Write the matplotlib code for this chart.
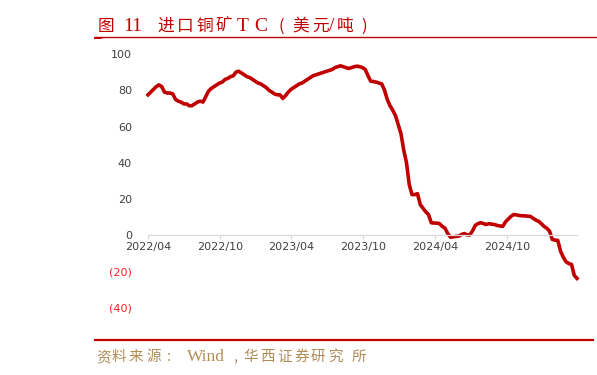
#!/usr/bin/env python3
"""Imported copper concentrate TC chart (USD/t), weekly."""

import matplotlib

matplotlib.use("Agg")
import matplotlib.dates as mdates
import matplotlib.pyplot as plt
import pandas as pd
from matplotlib.lines import Line2D
from matplotlib.ticker import FuncFormatter

plt.rcParams["font.family"] = ["DejaVu Sans", "Noto Sans CJK SC"]

# title and source are drawn piece by piece to copy the spaced serif look
TITLE_PIECES = [
    ("图", 98, "cjk"), ("11", 123, "latin"), ("进", 157, "cjk"),
    ("口", 177, "cjk"), ("铜", 196, "cjk"), ("矿", 216, "cjk"),
    ("T", 237, "latin"), ("C", 254, "latin"), ("(", 278, "cjk"),
    ("美", 292, "cjk"), ("元", 312, "cjk"), ("/", 329, "latin"),
    ("吨", 337, "cjk"), (")", 361, "cjk"),
]
SOURCE_PIECES = [
    ("资", 96, "cjk"), ("料", 112, "cjk"), ("来", 129, "cjk"),
    ("源", 146, "cjk"), (":", 167, "cjk"), ("Wind", 187, "latin"),
    (",", 233, "cjk"), ("华", 243, "cjk"), ("西", 260, "cjk"),
    ("证", 277, "cjk"), ("券", 294, "cjk"), ("研", 311, "cjk"),
    ("究", 328, "cjk"), ("所", 352, "cjk"),
]

START_DATE = "2022-04-01"
TC_VALUES = [
    77.5, 79, 80.5, 82, 83, 82, 79, 78.5, 78.5, 78,
    75, 74, 73.5, 72.5, 72.5, 71.5, 71.5, 72.5, 73.5, 74,
    73.5, 76.5, 79.5, 81, 82, 83, 84, 84.5, 86, 86.5,
    87.5, 88, 90, 90.5, 89.5, 88.5, 87.5, 87, 86, 85,
    84, 83.5, 82.5, 81.5, 80, 79, 78, 77.5, 77.5, 75.5,
    77, 79, 80.5, 81.5, 82.5, 83.5, 84, 85, 86, 87,
    88, 88.5, 89, 89.5, 90, 90.5, 91, 91.5, 92.5, 93,
    93.5, 93, 92.5, 92, 92.5, 93, 93.3, 93, 92.5, 91.5,
    88, 85, 84.8, 84.5, 84, 83.5, 80, 75, 71.5, 69,
    66, 61, 56, 47, 40, 28, 22.5, 22.5, 23, 17,
    15, 13, 11.5, 7, 6.8, 6.8, 6.5, 5, 4, 1,
    -1, -0.8, -0.5, -0.4, 0.5, 1, 0.3, 0.2, 2.5, 5.5,
    6.5, 7, 6.5, 6, 6.5, 6.2, 6, 5.5, 5.2, 5,
    7.5, 9, 10.5, 11.5, 11.3, 11, 10.8, 10.8, 10.6, 10.5,
    9.5, 8.5, 7.8, 6.5, 5, 4, 2.4, -2.2, -2.6, -2.7,
    -8.6, -12, -14.5, -15.5, -16, -22, -23.7,
]
Y_TICKS = [-40, -20, 0, 20, 40, 60, 80, 100]

LINE_RED = "#C00000"
GRID_GRAY = "#D9D9D9"
TEXT_GRAY = "#404040"
SOURCE_GOLD = "#B08D57"
WIDTH, HEIGHT = 597, 375


def _y_label(value, _pos):
    if value < 0:
        return f"({abs(value):.0f})"
    return f"{value:.0f}"


def _draw_pieces(figure, pieces, baseline, color, cjk_size, latin_size):
    for text, left, kind in pieces:
        if kind == "latin":
            family, size = ["Liberation Serif"], latin_size
        else:
            family, size = ["Noto Sans CJK SC", "DejaVu Sans"], cjk_size
        figure.text(left / WIDTH, 1 - baseline / HEIGHT, text, color=color,
                    fontsize=size, family=family, ha="left", va="baseline")


dates = pd.date_range(START_DATE, periods=len(TC_VALUES), freq="7D")

figure = plt.figure(figsize=(WIDTH / 100, HEIGHT / 100), dpi=100)
axis = figure.add_axes([0.2479, 0.1787, 0.7186, 0.6773])

axis.plot(dates, TC_VALUES, color=LINE_RED, linewidth=2.6,
          solid_joinstyle="round", clip_on=False)

axis.set_xlim(dates[0], dates[-1])
axis.set_ylim(-40, 100)
axis.set_yticks(Y_TICKS)
axis.yaxis.set_major_formatter(FuncFormatter(_y_label))
axis.tick_params(axis="y", length=0, pad=11.5, labelsize=8, labelcolor=TEXT_GRAY)
for label, value in zip(axis.get_yticklabels(), Y_TICKS):
    if value < 0:
        label.set_color("#FF2020")

axis.xaxis.set_major_locator(mdates.MonthLocator(bymonth=[4, 10]))
axis.xaxis.set_major_formatter(mdates.DateFormatter("%Y/%m"))
axis.tick_params(axis="x", length=3, width=0.8, color=GRID_GRAY, pad=2,
                 labelsize=8, labelcolor=TEXT_GRAY)

for side in ("left", "top", "right"):
    axis.spines[side].set_visible(False)
axis.spines["bottom"].set_position(("data", 0))
axis.spines["bottom"].set_color(GRID_GRAY)
axis.spines["bottom"].set_linewidth(0.9)

_draw_pieces(figure, TITLE_PIECES, 31, LINE_RED, 12, 14)
figure.add_artist(Line2D([95 / WIDTH, 1.0], [1 - 36.7 / HEIGHT] * 2,
                         color=LINE_RED, linewidth=1.0))
figure.add_artist(Line2D([95 / WIDTH, 101 / WIDTH], [1 - 38.3 / HEIGHT] * 2,
                         color=LINE_RED, linewidth=1.4))

figure.add_artist(Line2D([95 / WIDTH, 593 / WIDTH], [1 - 340 / HEIGHT] * 2,
                         color=LINE_RED, linewidth=1.6))
_draw_pieces(figure, SOURCE_PIECES, 361, SOURCE_GOLD, 10.5, 12.5)

figure.savefig("out.png", dpi=100)
plt.close(figure)
